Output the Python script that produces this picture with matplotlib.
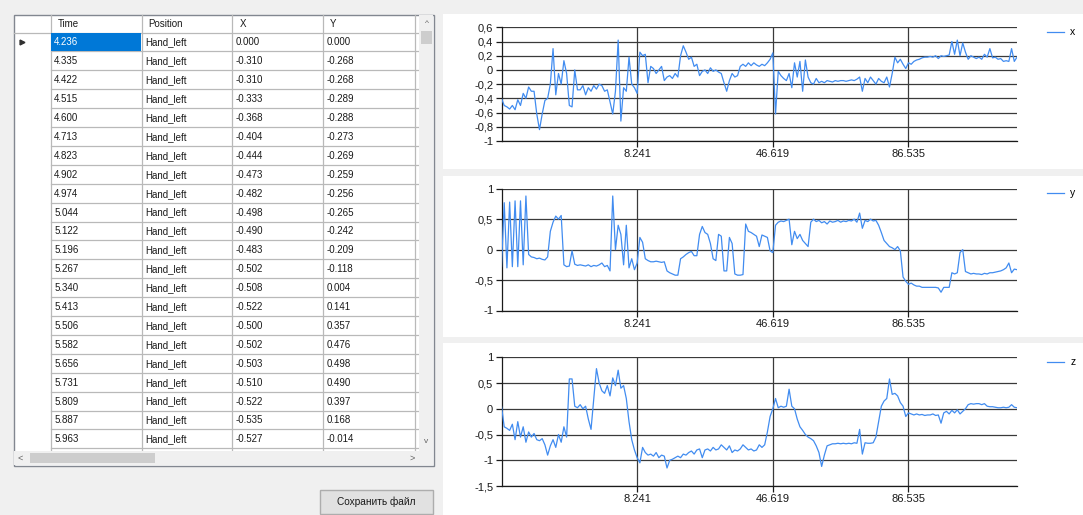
import matplotlib
matplotlib.use('Agg')
import matplotlib.pyplot as plt
import numpy as np
from matplotlib.patches import Rectangle

plt.rcParams['font.family'] = ['Liberation Sans', 'DejaVu Sans']

W, H = 1083, 515

# ---------------- table data ----------------
col_names = ['Time', 'Position', 'X', 'Y']
times = ['4.236', '4.335', '4.422', '4.515', '4.600', '4.713', '4.823', '4.902',
         '4.974', '5.044', '5.122', '5.196', '5.267', '5.340', '5.413', '5.506',
         '5.582', '5.656', '5.731', '5.809', '5.887', '5.963']
positions = ['Hand_left'] * len(times)
table_x = ['0.000', '-0.310', '-0.310', '-0.333', '-0.368', '-0.404', '-0.444', '-0.473',
           '-0.482', '-0.498', '-0.490', '-0.483', '-0.502', '-0.508', '-0.522', '-0.500',
           '-0.502', '-0.503', '-0.510', '-0.522', '-0.535', '-0.527']
table_y = ['0.000', '-0.268', '-0.268', '-0.289', '-0.288', '-0.273', '-0.269', '-0.259',
           '-0.256', '-0.265', '-0.242', '-0.209', '-0.118', '0.004', '0.141', '0.357',
           '0.476', '0.498', '0.490', '0.397', '0.168', '-0.014']
button_label = 'Сохранить файл'

# ---------------- chart data (one value per plotted sample) ----------------
x_series = [
    -0.40, -0.50, -0.52, -0.55, -0.50, -0.56, -0.42, -0.50, -0.33, -0.40,
    -0.24, -0.30, -0.30, -0.62, -0.84, -0.62, -0.43, -0.40, -0.20, 0.30,
    -0.35, -0.05, -0.20, 0.13, -0.05, -0.50, -0.52, 0.00, -0.28, -0.28,
    -0.22, -0.35, -0.25, -0.30, -0.22, -0.27, -0.20, -0.22, -0.30, -0.28,
    -0.45, -0.62, -0.30, 0.42, -0.72, -0.25, -0.30, 0.18, -0.20, -0.25,
    -0.33, 0.25, 0.20, 0.22, -0.18, 0.05, 0.02, -0.05, 0.00, 0.05,
    -0.15, -0.10, -0.08, -0.12, -0.05, -0.10, 0.20, 0.34, 0.25, 0.15,
    0.18, 0.05, 0.08, -0.08, -0.02, 0.00, -0.05, 0.03, -0.02, 0.00,
    -0.03, -0.05, -0.18, -0.30, -0.15, -0.05, -0.10, -0.08, 0.05, 0.08,
    0.05, 0.10, 0.06, 0.10, 0.07, 0.05,
    0.08, 0.06, 0.10, 0.15, 0.24, -0.62, -0.02, -0.08, -0.12, -0.15,
    -0.05, -0.25, 0.10, -0.10, 0.12, -0.30, 0.14, -0.10, -0.18, -0.20,
    -0.12, -0.18, -0.16, -0.18, -0.15, -0.16, -0.17, -0.15, -0.16, -0.15,
    -0.15, -0.16, -0.15, -0.14, -0.15, -0.13, -0.10, -0.30, -0.12, -0.18,
    -0.10, -0.15, -0.20, -0.12, -0.16, -0.18, -0.10, -0.24, -0.05, 0.18,
    0.10, 0.15, 0.08, 0.02, 0.10, 0.08, 0.12, 0.14, 0.15, 0.17,
    0.18, 0.18, 0.19, 0.18, 0.20, 0.16, 0.20, 0.19, 0.20, 0.21,
    0.40, 0.22, 0.42, 0.20, 0.38, 0.25, 0.15, 0.20, 0.18, 0.16,
    0.18, 0.15, 0.22, 0.18, 0.30, 0.17, 0.18, 0.15, 0.16, 0.12,
    0.13, 0.12, 0.30, 0.12, 0.18]

y_series = [
    -0.28, 0.77, -0.30, 0.78, -0.28, 0.80, -0.28, 0.80, -0.25, 0.88,
    -0.08, -0.12, -0.13, -0.15, -0.14, -0.16, -0.17, -0.12, 0.30, 0.45,
    0.55, 0.50, 0.56, -0.25, -0.28, -0.27, -0.02, -0.24, -0.26, -0.25,
    -0.26, -0.27, -0.25, -0.28, -0.26, -0.27, -0.25, -0.22, -0.28, -0.26,
    -0.35, 0.88, 0.00, 0.40, 0.25, -0.25, 0.40, -0.30, -0.15, -0.33,
    -0.22, 0.20, 0.12, -0.15, -0.18, -0.20, -0.20, -0.19, -0.20, -0.21,
    -0.20, -0.35, -0.38, -0.40, -0.42, -0.42, -0.15, -0.12, -0.08, -0.05,
    -0.03, -0.10, -0.10, 0.25, 0.38, 0.28, 0.25, 0.10, -0.15, -0.18,
    0.25, 0.22, -0.35, -0.35, 0.20, 0.10, -0.40, -0.42, -0.42, -0.41,
    0.42, 0.30, 0.28, 0.25, 0.22, 0.05,
    0.24, 0.22, 0.20, -0.02, -0.05, 0.40, 0.45, 0.47, 0.46, 0.48,
    0.50, 0.08, 0.30, 0.18, 0.25, 0.15, 0.10, 0.05, 0.45, 0.50,
    0.46, 0.48, 0.44, 0.46, 0.42, 0.47, 0.45, 0.46, 0.48, 0.45,
    0.47, 0.46, 0.48, 0.47, 0.50, 0.45, 0.60, 0.35, 0.48, 0.46,
    0.50, 0.47, 0.48, 0.40, 0.28, 0.15, 0.10, 0.05, 0.03, 0.00,
    0.05, -0.02, -0.45, -0.52, -0.57, -0.55, -0.58, -0.60, -0.60, -0.62,
    -0.62, -0.62, -0.62, -0.62, -0.62, -0.63, -0.70, -0.62, -0.62, -0.62,
    -0.38, -0.40, -0.38, -0.05, 0.00, -0.36, -0.38, -0.40, -0.39, -0.40,
    -0.40, -0.41, -0.39, -0.40, -0.38, -0.38, -0.37, -0.36, -0.35, -0.33,
    -0.30, -0.22, -0.38, -0.32, -0.33]

z_series = [
    0.05, -0.35, -0.38, -0.42, -0.30, -0.60, -0.25, -0.55, -0.35, -0.65,
    -0.45, -0.55, -0.48, -0.60, -0.62, -0.58, -0.70, -0.90, -0.72, -0.60,
    -0.75, -0.50, -0.65, -0.35, -0.55, 0.58, 0.58, 0.05, 0.02, 0.08,
    0.00, 0.05, -0.20, -0.40, 0.20, 0.78, 0.50, 0.35, 0.30, 0.45,
    0.25, 0.60, 0.45, 0.75, 0.40, 0.45, 0.20, -0.25, -0.60, -0.80,
    -0.95, -1.05, -0.75, -0.85, -0.90, -0.88, -0.92, -0.85, -0.95, -0.90,
    -0.92, -1.15, -1.00, -0.98, -0.95, -0.92, -0.95, -0.88, -0.90, -0.85,
    -0.82, -0.88, -0.80, -0.78, -0.95, -0.80, -0.78, -0.82, -0.75, -0.80,
    -0.78, -0.70, -0.75, -0.80, -0.72, -0.85, -0.80, -0.82, -0.78, -0.70,
    -0.75, -0.80, -0.78, -0.82, -0.80, -0.70,
    -0.75, -0.70, -0.45, -0.15, 0.00, 0.20, 0.02, 0.05, 0.03, 0.05,
    0.38, 0.05, 0.00, -0.20, -0.35, -0.42, -0.50, -0.55, -0.58, -0.62,
    -0.72, -0.85, -1.12, -0.90, -0.72, -0.70, -0.68, -0.68, -0.67, -0.68,
    -0.67, -0.68, -0.67, -0.68, -0.66, -0.67, -0.40, -0.88, -0.66, -0.67,
    -0.67, -0.66, -0.55, -0.25, 0.05, 0.15, 0.20, 0.58, 0.28, 0.30,
    0.25, 0.12, 0.05, -0.15, -0.08, -0.10, -0.12, -0.10, -0.12, -0.11,
    -0.13, -0.12, -0.12, -0.10, -0.13, -0.12, -0.28, -0.08, -0.05, -0.10,
    -0.03, -0.08, -0.02, -0.10, -0.05, 0.00, 0.08, 0.10, 0.09, 0.10,
    0.10, 0.08, 0.10, 0.05, 0.04, 0.04, 0.03, 0.02, 0.02, 0.03,
    0.02, 0.03, 0.08, 0.03, 0.02]

series_names = ['x', 'y', 'z']
tick_idx = [50, 100, 150]
tick_labels = ['8.241', '46.619', '86.535']
y_ticks = [[0.6, 0.4, 0.2, 0.0, -0.2, -0.4, -0.6, -0.8, -1.0],
           [1.0, 0.5, 0.0, -0.5, -1.0],
           [1.0, 0.5, 0.0, -0.5, -1.0, -1.5]]

LINE_COLOR = '#418CF0'
GRID_COLOR = '#3a3a3a'
BG = '#f0f0f0'

fig = plt.figure(figsize=(W / 100, H / 100), dpi=100, facecolor=BG)

# background / UI layer in pixel coordinates
bg = fig.add_axes([0, 0, 1, 1], zorder=0)
bg.set_xlim(0, W)
bg.set_ylim(H, 0)
bg.axis('off')

# ---- chart panels (white) ----
for top, bot in [(14, 169), (176, 337), (343, 515)]:
    bg.add_patch(Rectangle((443, top), W - 443, bot - top, facecolor='white', edgecolor='none'))

# ---- data grid ----
tbl_left, tbl_right, tbl_top, tbl_bottom = 13.5, 433.5, 14.5, 465.5
col_edges = [13.5, 50.7, 141.7, 232.3, 323.3, 415.0]
header_bot = 32.5
row_h = 18.9
vscroll_left = 419.0
hscroll_top = 451.0

bg.add_patch(Rectangle((tbl_left, tbl_top), tbl_right - tbl_left, tbl_bottom - tbl_top,
                       facecolor='white', edgecolor='#828790', lw=1.0, zorder=1))

n_rows = len(times)
grid_c = '#b9b9b9'
# horizontal row lines
y_line = header_bot
bg.plot([col_edges[0], vscroll_left], [header_bot, header_bot], color=grid_c, lw=0.9, zorder=2)
for i in range(n_rows + 1):
    yl = header_bot + row_h * (i + 1)
    if yl < hscroll_top:
        bg.plot([col_edges[1], vscroll_left], [yl, yl], color=grid_c, lw=0.9, zorder=2)
# vertical column lines
for xe in col_edges[1:]:
    bg.plot([xe, xe], [tbl_top, hscroll_top], color=grid_c, lw=0.9, zorder=2)

# selected cell
bg.add_patch(Rectangle((col_edges[1] + 0.5, header_bot + 0.5), col_edges[2] - col_edges[1] - 1,
                       row_h - 1, facecolor='#0078d7', edgecolor='none', zorder=3))

fs_tbl = 7
for j, name in enumerate(col_names):
    bg.text(col_edges[j + 1] + 7, (tbl_top + header_bot) / 2 + 0.5, name, fontsize=fs_tbl,
            va='center', ha='left', color='#1a1a1a', zorder=4)

for i in range(n_rows):
    yc = header_bot + row_h * (i + 0.5) + 0.5
    vals = [times[i], positions[i], table_x[i], table_y[i]]
    for j, v in enumerate(vals):
        color = 'white' if (i == 0 and j == 0) else '#1a1a1a'
        bg.text(col_edges[j + 1] + 3.5, yc, v, fontsize=fs_tbl, va='center', ha='left',
                color=color, zorder=4)

# current-row indicator
bg.plot([21.5], [header_bot + row_h * 0.5], marker='>', ms=3.5, color='#303030', zorder=4)

# vertical scrollbar
bg.add_patch(Rectangle((vscroll_left, tbl_top + 0.5), tbl_right - vscroll_left - 0.5,
                       hscroll_top - tbl_top - 0.5, facecolor=BG, edgecolor='none', zorder=3))
bg.add_patch(Rectangle((vscroll_left + 2, 30.5), 11, 13, facecolor='#cdcdcd', edgecolor='none', zorder=4))
bg.text(426.5, 23.5, '^', fontsize=6, ha='center', va='center', color='#606060', zorder=5)
bg.text(426.5, 441.5, 'v', fontsize=6, ha='center', va='center', color='#606060', zorder=5)
# horizontal scrollbar
bg.add_patch(Rectangle((tbl_left + 0.5, hscroll_top), tbl_right - tbl_left - 1,
                       tbl_bottom - hscroll_top - 0.5, facecolor=BG, edgecolor='none', zorder=3))
bg.add_patch(Rectangle((30, hscroll_top + 2), 125, 10, facecolor='#cdcdcd', edgecolor='none', zorder=4))
bg.text(20, 458, '<', fontsize=6.5, ha='center', va='center', color='#606060', zorder=5)
bg.text(412, 458, '>', fontsize=6.5, ha='center', va='center', color='#606060', zorder=5)

# button
bg.add_patch(Rectangle((320, 489.5), 113, 24, facecolor='#e1e1e1', edgecolor='#adadad', lw=1, zorder=2))
bg.text(376.5, 501.5, button_label, fontsize=7.3, ha='center', va='center', color='#1a1a1a', zorder=3)

# ---- charts ----
def px_axes(left, right, top, bottom):
    return fig.add_axes([left / W, 1 - bottom / H, (right - left) / W, (bottom - top) / H], zorder=2)

chart_boxes = [(501.5, 1017, 27.3, 141.0),
               (501.5, 1017, 188.7, 310.5),
               (501.5, 1017, 357.3, 486.0)]
legend_y = [28, 189, 358]
all_series = [x_series, y_series, z_series]

def fmt(v):
    s = ('%g' % round(v, 2)).replace('.', ',')
    return '0' if s in ('0', '-0') else s

for k, (box, data) in enumerate(zip(chart_boxes, all_series)):
    ax = px_axes(*box)
    ax.set_facecolor('none')
    idx = np.arange(len(data))
    ax.plot(idx, data, color=LINE_COLOR, lw=0.9, label=series_names[k], zorder=3)
    ax.set_xlim(0, len(data) - 1)
    yt = y_ticks[k]
    ax.set_ylim(min(yt), max(yt))
    ax.set_yticks(yt)
    ax.set_yticklabels([fmt(v) for v in yt])
    ax.set_xticks(tick_idx)
    ax.set_xticklabels(tick_labels)
    ax.grid(True, color=GRID_COLOR, lw=0.9, zorder=1)
    ax.set_axisbelow(True)
    for side in ('top', 'right'):
        ax.spines[side].set_visible(False)
    for side in ('left', 'bottom'):
        ax.spines[side].set_color('#1a1a1a')
        ax.spines[side].set_linewidth(0.9)
    ax.tick_params(axis='both', direction='out', length=4, width=0.9, color='#1a1a1a',
                   labelsize=8, labelcolor='#1a1a1a', pad=2)
    leg = ax.legend(loc='upper left', bbox_to_anchor=(1040 / W, 1 - (legend_y[k] - 8) / H),
                    bbox_transform=fig.transFigure, frameon=False, fontsize=7.5,
                    handlelength=1.6, handletextpad=0.6, borderpad=0.2)

fig.savefig('out.png', dpi=100, facecolor=BG)
